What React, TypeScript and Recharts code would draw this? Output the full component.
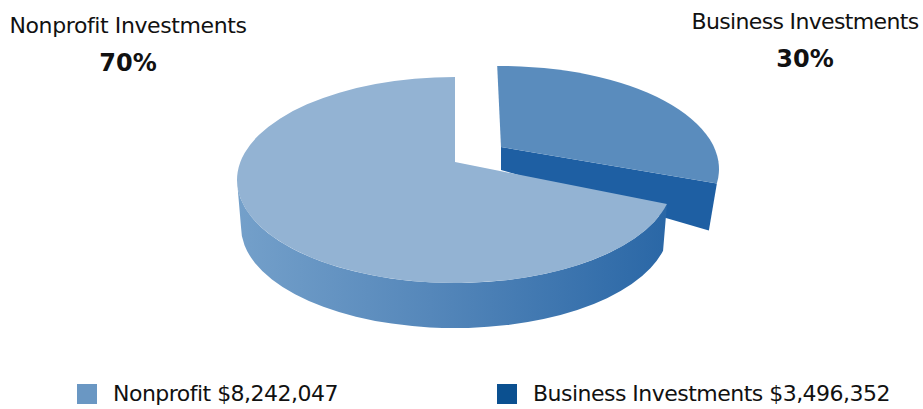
import { PieChart, Pie, Legend } from 'recharts';

const categories = ['Business Investments', 'Nonprofit'];
const amounts = [3496352, 8242047];
const amountLabels = ['$3,496,352', '$8,242,047'];
const calloutTitles = ['Business Investments', 'Nonprofit Investments'];
const calloutShares = ['30%', '70%'];

const pieData = categories.map((name, i) => ({ name, value: amounts[i] }));

const SQUASH = 103 / 218;
const FONT = '"DejaVu Sans", sans-serif';

// the picture is a fake 3D pie, so each slice needs a few tweaks
const looks = [
  { dx: 46, dy: -11, lift: 22, startShift: 1, endShift: 9.2, depth: 47, narrow: 8, top: '#5a8cbd', side: '#1e5fa3' },
  { dx: 0, dy: 0, lift: 18, startShift: 3.7, endShift: 0, depth: 47, narrow: 4, top: '#93b3d3', side: 'url(#sideFade)' },
];
const calloutSpots = [
  { x: 805, y: 29, shareY: 67, spacing: -0.65 },
  { x: 128, y: 33, shareY: 71, spacing: -0.4 },
];
const swatches = ['#0b5090', '#6a97c3'];
const legendLefts = [497, 77];

const SliceShape = (props: any) => {
  const { cx, cy, outerRadius, startAngle, endAngle, index } = props;
  const look = looks[index];
  const a0 = ((startAngle + look.startShift) * Math.PI) / 180;
  const a1 = ((endAngle + look.endShift) * Math.PI) / 180;
  const ox = cx + look.dx;
  const oy = cy + look.dy;
  const rx = outerRadius;
  const ry = outerRadius * SQUASH;
  const onRim = (a: number, r = rx, drop = 0) => [ox + r * Math.cos(a), oy + drop - r * SQUASH * Math.sin(a)];
  const [sx, sy] = onRim(a0);
  const [ex, ey] = onRim(a1);
  const large = Math.abs(startAngle - endAngle) > 180 ? 1 : 0;
  const apexY = oy - look.lift;
  const faceD = `M${ox},${apexY} L${sx},${sy} A${rx},${ry} 0 ${large} 1 ${ex},${ey} Z`;

  let sideD = '';
  if (index === 1) {
    // rounded wall of the big slice, front half only
    const left = Math.PI;
    const [lx, ly] = onRim(left);
    const r2 = rx - look.narrow;
    const [bsx, bsy] = onRim(a0, r2, look.depth);
    const [blx, bly] = onRim(left, r2, look.depth);
    sideD = `M${sx},${sy} L${bsx},${bsy} A${r2},${r2 * SQUASH} 0 0 1 ${blx},${bly} L${lx},${ly} A${rx},${ry} 0 0 0 ${sx},${sy} Z`;
  } else {
    // cut wall of the pulled out slice
    const bx = ex - look.narrow;
    const by = ey + look.depth;
    sideD = `M${ox},${apexY} L${ex},${ey} L${bx},${by} L${ox},${apexY + 23} Z`;
  }

  return (
    <g>
      <defs>
        <linearGradient id="sideFade" gradientUnits="userSpaceOnUse" x1="237" x2="667" y1="0" y2="0">
          <stop offset="0" stopColor="#74a0ca" />
          <stop offset="0.45" stopColor="#5587ba" />
          <stop offset="1" stopColor="#2a67a6" />
        </linearGradient>
      </defs>
      <path d={sideD} fill={look.side} />
      <path d={faceD} fill={look.top} />
    </g>
  );
};

const Callout = (props: any) => {
  const spot = calloutSpots[props.index];
  return (
    <g fontFamily={FONT} fill="#111">
      <text x={spot.x} y={spot.y} textAnchor="middle" fontSize={22} letterSpacing={spot.spacing}>
        {calloutTitles[props.index]}
      </text>
      <text x={spot.x} y={spot.shareY} textAnchor="middle" fontSize={24} fontWeight="bold">
        {calloutShares[props.index]}
      </text>
    </g>
  );
};

const LegendRow = () => (
  <div style={{ position: 'relative', width: 923, height: 39, fontFamily: FONT, fontSize: 22, letterSpacing: -0.52, color: '#111' }}>
    {categories.map((name, i) => (
      <div key={name} style={{ position: 'absolute', left: legendLefts[i], top: 0, display: 'flex', alignItems: 'center', height: 39, whiteSpace: 'nowrap' }}>
        <span style={{ width: 20, height: 20, background: swatches[i], marginRight: 16, display: 'inline-block' }} />
        <span>{name} {amountLabels[i]}</span>
      </div>
    ))}
  </div>
);

export default function App() {
  return (
    <div style={{ position: 'absolute', left: 0, top: 0, width: 923, height: 409, background: '#fff' }}>
      <PieChart width={923} height={409} margin={{ top: 0, right: 0, bottom: 0, left: 0 }}>
        <Pie
          data={pieData}
          dataKey="value"
          nameKey="name"
          cx={455}
          cy={180}
          innerRadius={0}
          outerRadius={218}
          startAngle={90}
          endAngle={-270}
          stroke="none"
          shape={SliceShape}
          label={Callout}
          labelLine={false}
          isAnimationActive={false}
        />
        <Legend content={LegendRow} wrapperStyle={{ position: 'absolute', left: 0, top: 374, width: 923, height: 39 }} />
      </PieChart>
    </div>
  );
}
